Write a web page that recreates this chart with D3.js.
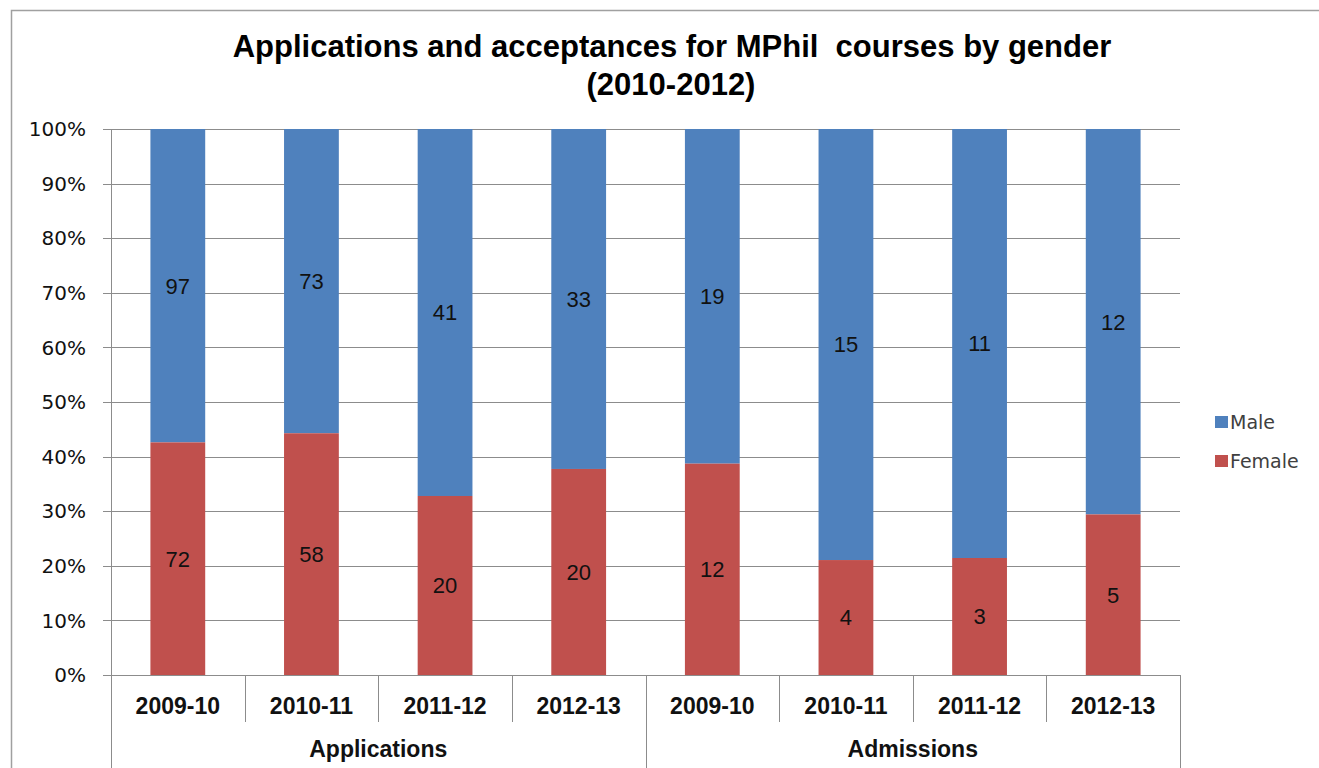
<!DOCTYPE html>
<html>
<head>
<meta charset="utf-8">
<script src="https://cdn.jsdelivr.net/npm/d3@7"></script>
<style>
  body { margin: 0; background: #fff; }
  svg { font-family: "Liberation Sans", Arial, sans-serif; }
</style>
</head>
<body>
<div id="chart"></div>
<script>
// data
const groups = ["Applications", "Admissions"];
const years = ["2009-10", "2010-11", "2011-12", "2012-13"];
const female = [72, 58, 20, 20, 12, 4, 3, 5];
const male = [97, 73, 41, 33, 19, 15, 11, 12];
const yTicks = [0, 0.1, 0.2, 0.3, 0.4, 0.5, 0.6, 0.7, 0.8, 0.9, 1];

const width = 1319, height = 768;
const margin = {top: 129, right: 139, bottom: 93, left: 111};
const innerW = width - margin.left - margin.right;
const innerH = height - margin.top - margin.bottom;

const rows = [];
groups.forEach((g, gi) => {
    years.forEach((y, yi) => {
        const i = gi * years.length + yi;
        rows.push({key: g + "|" + y, group: g, year: y, female: female[i], male: male[i]});
    });
});

const svg = d3.select("#chart")
    .append("svg")
    .attr("width", width)
    .attr("height", height);

// outer chart border
svg.append("rect")
    .attr("x", 11.5).attr("y", 10.5)
    .attr("width", width + 20).attr("height", height + 20)
    .style("fill", "none")
    .style("stroke", "#a0a0a0")
    .style("stroke-width", 1.5);

svg.append("text")
    .attr("x", 672).attr("y", 57)
    .attr("text-anchor", "middle")
    .style("font-size", "31px")
    .style("font-weight", "bold")
    .style("white-space", "pre")
    .text("Applications and acceptances for MPhil  courses by gender");
svg.append("text")
    .attr("x", 671).attr("y", 95)
    .attr("text-anchor", "middle")
    .style("font-size", "31px")
    .style("font-weight", "bold")
    .text("(2010-2012)");

const g = svg.append("g")
    .attr("transform", "translate(" + margin.left + "," + margin.top + ")");

const x = d3.scaleBand()
    .domain(rows.map(d => d.key))
    .range([0, innerW])
    .paddingInner(0.59)
    .paddingOuter(0.295);

const y = d3.scaleLinear()
    .domain([0, 1])
    .range([innerH, 0]);

// gridlines
g.append("g")
    .selectAll("line")
    .data(yTicks)
    .enter()
    .append("line")
    .attr("x1", -8)
    .attr("x2", innerW)
    .attr("y1", d => Math.round(y(d)) + 0.5)
    .attr("y2", d => Math.round(y(d)) + 0.5)
    .style("stroke", "#8c8c8c")
    .style("stroke-width", 1);

g.append("line")
    .attr("x1", 0.5).attr("x2", 0.5)
    .attr("y1", 0).attr("y2", innerH)
    .style("stroke", "#8c8c8c");

// y labels
g.append("g")
    .selectAll("text")
    .data(yTicks)
    .enter()
    .append("text")
    .attr("x", -25)
    .attr("y", d => y(d))
    .attr("dy", "0.36em")
    .attr("text-anchor", "end")
    .style("font-family", "'DejaVu Sans', Verdana, sans-serif")
    .style("font-size", "20px")
    .style("fill", "#111")
    .text(d => d3.format(".0%")(d));

// stacked bars
const bars = g.append("g")
    .selectAll("g")
    .data(rows)
    .enter()
    .append("g");

bars.append("rect")
    .attr("x", d => x(d.key))
    .attr("width", x.bandwidth())
    .attr("y", d => y(1))
    .attr("height", d => y(d.female / (d.female + d.male)) - y(1))
    .style("fill", "#4F81BD");

bars.append("rect")
    .attr("x", d => x(d.key))
    .attr("width", x.bandwidth())
    .attr("y", d => y(d.female / (d.female + d.male)))
    .attr("height", d => innerH - y(d.female / (d.female + d.male)))
    .style("fill", "#C0504D");

bars.append("text")
    .attr("x", d => x(d.key) + x.bandwidth() / 2)
    .attr("y", d => y((1 + d.female / (d.female + d.male)) / 2))
    .attr("dy", "0.36em")
    .attr("text-anchor", "middle")
    .style("font-size", "22px")
    .style("fill", "#111")
    .text(d => d.male);

bars.append("text")
    .attr("x", d => x(d.key) + x.bandwidth() / 2)
    .attr("y", d => y(d.female / (d.female + d.male) / 2))
    .attr("dy", "0.36em")
    .attr("text-anchor", "middle")
    .style("font-size", "22px")
    .style("fill", "#111")
    .text(d => d.female);

// category axis: year labels and separators
const step = x.step();
const cats = g.append("g").attr("transform", "translate(0," + innerH + ")");

cats.selectAll("line.sep")
    .data(d3.range(rows.length + 1))
    .enter()
    .append("line")
    .attr("class", "sep")
    .attr("x1", i => Math.round(i * step) + 0.5)
    .attr("x2", i => Math.round(i * step) + 0.5)
    .attr("y1", 0)
    .attr("y2", i => (i % years.length === 0) ? 93 : 47)
    .style("stroke", "#8c8c8c");

cats.selectAll("text.year")
    .data(rows)
    .enter()
    .append("text")
    .attr("class", "year")
    .attr("x", d => x(d.key) + x.bandwidth() / 2)
    .attr("y", 39)
    .attr("text-anchor", "middle")
    .style("font-size", "23px")
    .style("font-weight", "bold")
    .style("fill", "#111")
    .text(d => d.year);

cats.selectAll("text.group")
    .data(groups)
    .enter()
    .append("text")
    .attr("class", "group")
    .attr("x", (d, i) => (i + 0.5) * years.length * step)
    .attr("y", 82)
    .attr("text-anchor", "middle")
    .style("font-size", "23px")
    .style("font-weight", "bold")
    .style("fill", "#111")
    .text(d => d);

// legend
const legend = svg.append("g")
    .attr("transform", "translate(1215,422)");
const legendItems = [{name: "Male", color: "#4F81BD"}, {name: "Female", color: "#C0504D"}];
const li = legend.selectAll("g")
    .data(legendItems)
    .enter()
    .append("g")
    .attr("transform", (d, i) => "translate(0," + (i * 39) + ")");
li.append("rect")
    .attr("x", 0).attr("y", -6)
    .attr("width", 13).attr("height", 12)
    .style("fill", d => d.color);
li.append("text")
    .attr("x", 15)
    .attr("dy", "0.36em")
    .style("font-family", "'DejaVu Sans', Verdana, sans-serif")
    .style("font-size", "19px")
    .style("fill", "#404040")
    .text(d => d.name);
</script>
</body>
</html>
